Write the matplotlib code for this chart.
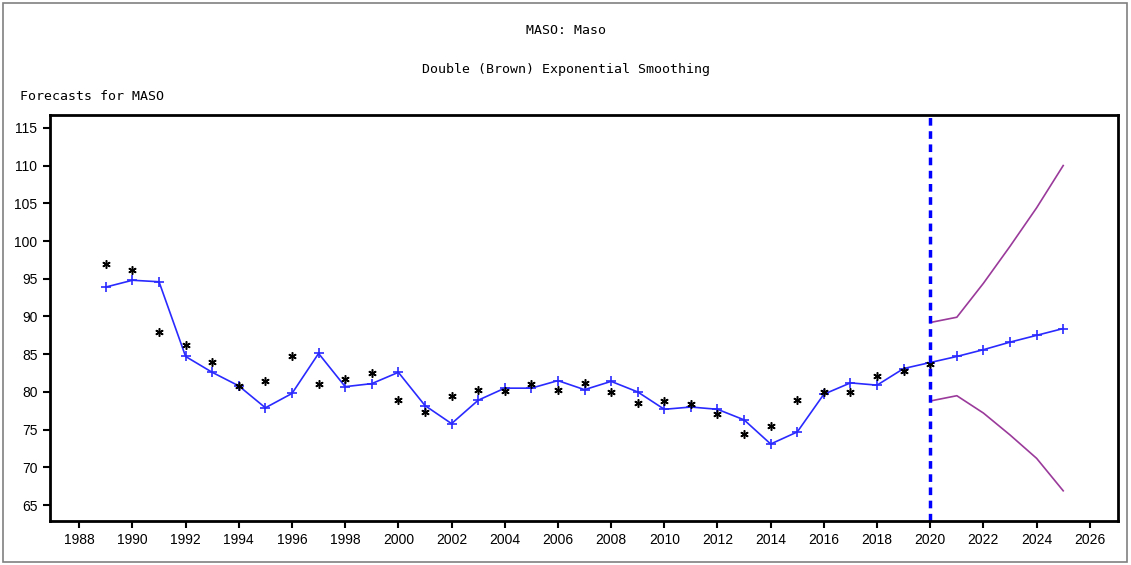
import numpy as np
import matplotlib
matplotlib.use("Agg")
import matplotlib.pyplot as plt
from matplotlib.patches import Rectangle

# === Dados ===
years_hist = list(range(1989, 2021))
actual = [97.0, 96.1, 88.0, 86.2, 84.0, 80.8, 81.5, 84.8, 81.1, 81.7,
          82.5, 78.9, 77.4, 79.5, 80.2, 80.1, 81.0, 80.2, 81.2, 80.0,
          78.5, 78.8, 78.4, 77.1, 74.4, 75.5, 78.9, 80.0, 80.0, 82.1,
          82.8, 83.7]

years_fit = list(range(1989, 2026))
fitted = [93.9, 94.8, 94.6, 84.7, 82.6, 80.8, 77.9, 79.8, 85.1, 80.7,
          81.1, 82.6, 78.2, 75.8, 78.9, 80.5, 80.5, 81.5, 80.3, 81.4,
          80.0, 77.7, 78.0, 77.7, 76.3, 73.1, 74.7, 79.7, 81.2, 80.9,
          83.1, 83.9, 84.7, 85.6, 86.6, 87.5, 88.4]

years_fc = list(range(2020, 2026))
upper = [89.2, 89.9, 94.4, 99.3, 104.4, 110.0]
lower = [78.8, 79.5, 77.2, 74.3, 71.2, 66.9]

forecast_start = 2020
xticks = list(range(1988, 2027, 2))
yticks = list(range(65, 116, 5))

# === Figura ===
fig = plt.figure(figsize=(11.31, 5.65), dpi=100)
ax = fig.add_axes([0.0442, 0.0779, 0.9443, 0.7186])

ax.plot(years_fit, fitted, color="#2a2aff", lw=1.2, marker="+", ms=7, mew=1.2)
ax.plot(years_hist, actual, ls="none", marker=(6, 2, 0), ms=6, mew=1.1, color="black")
ax.plot(years_fc, upper, color="#9a3a9a", lw=1.2)
ax.plot(years_fc, lower, color="#9a3a9a", lw=1.2)
ax.axvline(forecast_start, color="#0000ff", lw=2.5, ls=(0, (2.2, 1.6)))

ax.set_xlim(1986.9, 2027.06)
ax.set_ylim(62.9, 116.7)
ax.set_xticks(xticks)
ax.set_yticks(yticks)
ax.tick_params(direction="out", length=5, width=1.5, labelsize=10, pad=4)
for lab in ax.get_xticklabels() + ax.get_yticklabels():
    lab.set_fontfamily("Liberation Sans")
for sp in ax.spines.values():
    sp.set_linewidth(2)

# === Títulos ===
mono = "DejaVu Sans Mono"
fig.text(0.5, 1 - 31 / 565, "MASO: Maso", ha="center", va="center", fontsize=9.5, family=mono)
fig.text(0.5, 1 - 69 / 565, "Double (Brown) Exponential Smoothing", ha="center", va="center",
         fontsize=9.5, family=mono)
fig.text(20 / 1131, 1 - 96 / 565, "Forecasts for MASO", ha="left", va="center", fontsize=9.5, family=mono)

# === Moldura externa ===
fig.patches.append(Rectangle((3 / 1131, 3 / 565), 1124 / 1131, 559 / 565, transform=fig.transFigure,
                             fill=False, edgecolor="#808080", lw=1.2))

fig.savefig("out.png", dpi=100)
